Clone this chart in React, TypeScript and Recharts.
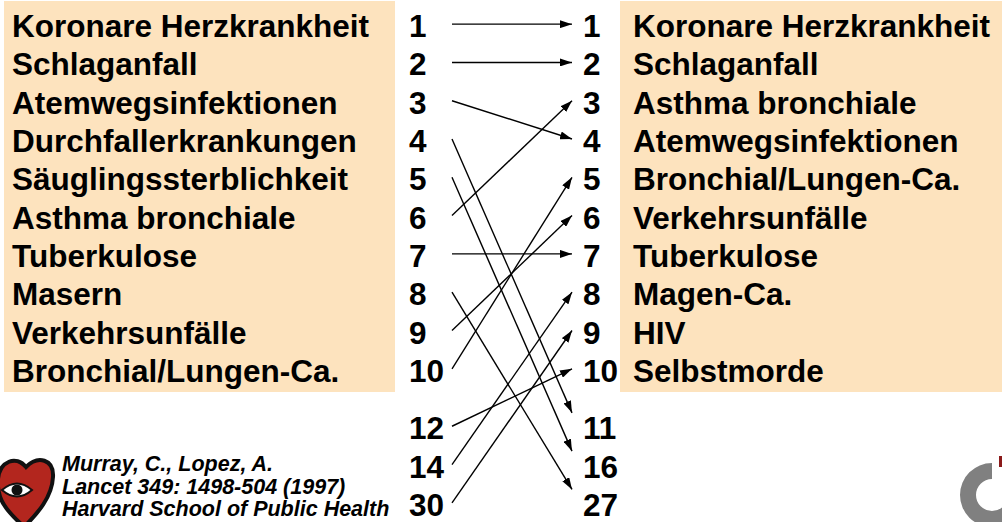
import React from "react";
import { LineChart, Line, XAxis, YAxis } from "recharts";

// Rang 1990 (links) und Prognose 2020 (rechts)
const leftRanks = [1, 2, 3, 4, 5, 6, 7, 8, 9, 10, 12, 14, 30];
const leftNames = [
  "Koronare Herzkrankheit",
  "Schlaganfall",
  "Atemwegsinfektionen",
  "Durchfallerkrankungen",
  "Säuglingssterblichkeit",
  "Asthma bronchiale",
  "Tuberkulose",
  "Masern",
  "Verkehrsunfälle",
  "Bronchial/Lungen-Ca.",
];
const rightRanks = [1, 2, 3, 4, 5, 6, 7, 8, 9, 10, 11, 16, 27];
const rightNames = [
  "Koronare Herzkrankheit",
  "Schlaganfall",
  "Asthma bronchiale",
  "Atemwegsinfektionen",
  "Bronchial/Lungen-Ca.",
  "Verkehrsunfälle",
  "Tuberkulose",
  "Magen-Ca.",
  "HIV",
  "Selbstmorde",
];
// which 1990 rank moves to which 2020 rank
const fromRank = [1, 2, 3, 4, 5, 6, 7, 8, 9, 10, 12, 14, 30];
const toRank = [1, 2, 4, 11, 16, 3, 7, 27, 6, 5, 10, 8, 9];
const citation = [
  "Murray, C., Lopez, A.",
  "Lancet 349: 1498-504 (1997)",
  "Harvard School of Public Health",
];

const FONT = '"Liberation Sans", Arial, Helvetica, sans-serif';
const PEACH = "#FDE3BE";

// row position of the n-th entry; the last three rows sit a bit lower
const slotOf = (i: number) => (i < 10 ? i + 1 : i + 1.5);
const slots = leftRanks.map((_, i) => slotOf(i));

const links = fromRank.map((r, k) => {
  const li = leftRanks.indexOf(r);
  const ri = rightRanks.indexOf(toRank[k]);
  // arrows into the lower block point at the top of the number
  const end = slotOf(ri) - (ri >= 10 ? 0.35 : 0);
  return [
    { x: 0, y: slotOf(li) },
    { x: 1, y: end },
  ];
});

const textStyle = { fontFamily: FONT, fontWeight: 700, fontSize: 31.5, fill: "#000" };

const LeftTick = (props: any) => {
  const { y, payload } = props;
  const i = slots.indexOf(payload.value);
  return (
    <g>
      {leftNames[i] && (
        <text x={12} y={y + 13} style={textStyle}>
          {leftNames[i]}
        </text>
      )}
      <text x={409} y={y + 13} style={textStyle}>
        {leftRanks[i]}
      </text>
    </g>
  );
};

const RightTick = (props: any) => {
  const { y, payload } = props;
  const i = slots.indexOf(payload.value);
  return (
    <g>
      <text x={583} y={y + 13} style={textStyle}>
        {rightRanks[i]}
      </text>
      {rightNames[i] && (
        <text x={633} y={y + 13} style={textStyle}>
          {rightNames[i]}
        </text>
      )}
    </g>
  );
};

export default function App() {
  return (
    <div style={{ position: "absolute", left: 0, top: 0, width: 1002, height: 522, background: "#fff", overflow: "hidden" }}>
      {/* Hintergrundkästen */}
      <div style={{ position: "absolute", left: 4, top: 1, width: 391, height: 391, background: PEACH }} />
      <div style={{ position: "absolute", left: 620, top: 1, width: 382, height: 391, background: PEACH }} />

      <svg width={0} height={0} style={{ position: "absolute" }}>
        <defs>
          <marker id="arrowHead" viewBox="0 0 12 8" refX={12} refY={4} markerWidth={12} markerHeight={8} markerUnits="userSpaceOnUse" orient="auto">
            <path d="M0,0 L12,4 L0,8 z" fill="#000" />
          </marker>
        </defs>
      </svg>

      <div style={{ position: "absolute", left: 0, top: 0 }}>
        <LineChart width={1002} height={522} margin={{ top: 0, right: 0, bottom: 0, left: 0 }}>
          <XAxis dataKey="x" type="number" domain={[0, 1]} hide />
          <YAxis
            yAxisId="left"
            orientation="left"
            type="number"
            domain={[0.37, 14]}
            reversed
            allowDataOverflow
            ticks={slots}
            interval={0}
            width={452}
            axisLine={false}
            tickLine={false}
            tick={<LeftTick />}
          />
          <YAxis
            yAxisId="right"
            orientation="right"
            type="number"
            domain={[0.37, 14]}
            reversed
            allowDataOverflow
            ticks={slots}
            interval={0}
            width={430}
            axisLine={false}
            tickLine={false}
            tick={<RightTick />}
          />
          {links.map((d, k) => (
            <Line
              key={k}
              yAxisId="left"
              data={d}
              dataKey="y"
              type="linear"
              stroke="#000"
              strokeWidth={1.4}
              dot={false}
              activeDot={false}
              markerEnd="url(#arrowHead)"
              isAnimationActive={false}
            />
          ))}
        </LineChart>
      </div>

      {/* Quelle */}
      <svg width={1002} height={522} style={{ position: "absolute", left: 0, top: 0, pointerEvents: "none" }}>
        {citation.map((c, i) => (
          <text key={i} x={62} y={471 + i * 22.5} style={{ fontFamily: FONT, fontWeight: 700, fontStyle: "italic", fontSize: 21.5, fill: "#000" }}>
            {c}
          </text>
        ))}
        {/* Herz-Logo */}
        <g transform="translate(0,455)">
          <path
            d="M24,72 C12,60 -4,48 -2,24 C0,6 16,0 26,12 C38,0 54,4 53,22 C52,42 38,58 24,72 Z"
            fill="#B3261E"
            stroke="#111"
            strokeWidth={4}
          />
          <path d="M2,35 Q17,22 32,35 Q17,48 2,35 Z" fill="#fff" stroke="#111" strokeWidth={2} />
          <circle cx={17} cy={35} r={5.5} fill="#111" />
        </g>
        {/* Logo rechts */}
        <path d="M992,463 A32,32 0 1,0 1024,495 L1008,495 A16,16 0 1,1 992,479 Z" fill="#808080" />
        <rect x={999} y={456} width={4} height={11} fill="#8B1A1A" />
      </svg>
    </div>
  );
}
